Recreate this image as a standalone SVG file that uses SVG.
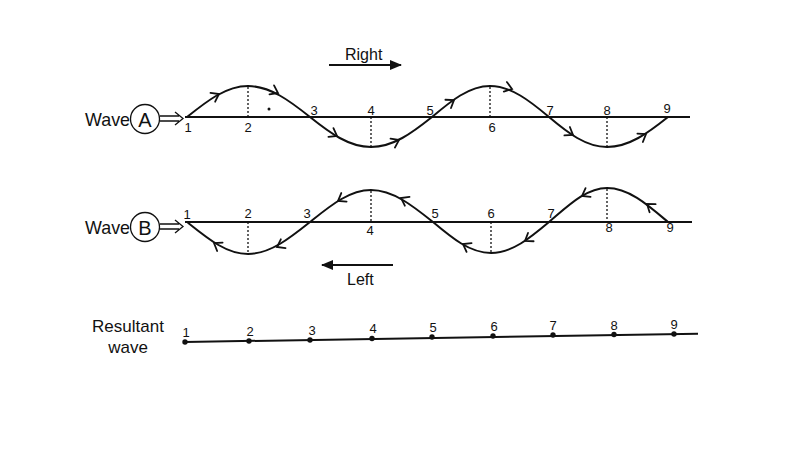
<svg xmlns="http://www.w3.org/2000/svg" xmlns:xlink="http://www.w3.org/1999/xlink" width="800" height="450" viewBox="0 0 800 450">
  <style>
    .t { font-family: "Liberation Sans", Arial, sans-serif; fill: #111; }
    .num { font-size: 13px; text-anchor: middle; }
    .lbl { font-size: 16px; }
    .axis { stroke: #111; stroke-width: 2; fill: none; }
    .wave { stroke: #111; stroke-width: 2; fill: none; }
    .dot { stroke: #111; stroke-width: 1.3; stroke-dasharray: 2 2; fill: none; }
    .chev { stroke: #111; stroke-width: 1.8; fill: none; stroke-linejoin: miter; stroke-linecap: round; }
    .dbl { stroke: #111; stroke-width: 1.3; fill: none; }
  </style>
  <defs>
    <path id="chev" d="M-7,-5 L0,0 L-7,5"/>
    <marker id="head" viewBox="0 0 12 10" refX="11" refY="5" markerWidth="12" markerHeight="10" markerUnits="userSpaceOnUse" orient="auto">
      <path d="M0,0 L12,5 L0,10 Z" fill="#111"/>
    </marker>
  </defs>
  <rect width="800" height="450" fill="#ffffff"/>

  <!-- Direction arrows -->
  <g id="right">
    <text class="t lbl" x="345" y="60">Right</text>
    <line x1="329" y1="65" x2="401" y2="65" stroke="#111" stroke-width="2" marker-end="url(#head)"/>
  </g>
  <g id="left">
    <line x1="393" y1="265" x2="322" y2="265" stroke="#111" stroke-width="2" marker-end="url(#head)"/>
    <text class="t lbl" x="347" y="285">Left</text>
  </g>

  <!-- Wave A -->
  <g id="waveA">
    <text class="t" x="85" y="126" font-size="19" textLength="45" lengthAdjust="spacingAndGlyphs">Wave</text>
    <circle cx="145" cy="119" r="14.5" fill="none" stroke="#111" stroke-width="1.3"/>
    <text class="t" x="145" y="126.5" font-size="20" text-anchor="middle">A</text>
    <path class="dbl" d="M160,116 H179 M160,121 H179 M175,112 L183,118.5 L175,125"/>
    <line class="axis" x1="185" y1="117" x2="690" y2="117"/>
    <path class="wave" d="M187,117 C207,101 226,86 248,86 C270,86 290,101 310,117 C330,133 349,147 371,147 C393,147 412,133 432,117 C451,101 469,86 490,86 C511,86 530,101 549,117 C568,133 586,147 607,147 C629,147 648,133 668,117"/>
    <path class="dot" d="M248,87 V117 M371,117 V146 M490,87 V117 M607,117 V146"/>
    <g class="chev">
      <use xlink:href="#chev" transform="translate(219,94) rotate(-28)"/>
      <use xlink:href="#chev" transform="translate(278,93) rotate(27)"/>
      <use xlink:href="#chev" transform="translate(337,136) rotate(30)"/>
      <use xlink:href="#chev" transform="translate(399,140) rotate(-26)"/>
      <use xlink:href="#chev" transform="translate(454,100) rotate(-34)"/>
      <use xlink:href="#chev" transform="translate(512,89) rotate(18)"/>
      <use xlink:href="#chev" transform="translate(573,135) rotate(33)"/>
      <use xlink:href="#chev" transform="translate(646,134) rotate(-33)"/>
    </g>
    <circle cx="269" cy="109" r="1.5" fill="#111"/>
    <g class="t num">
      <text x="188" y="132">1</text>
      <text x="248" y="132">2</text>
      <text x="314" y="115">3</text>
      <text x="371" y="115">4</text>
      <text x="430" y="115">5</text>
      <text x="492" y="132">6</text>
      <text x="550" y="115">7</text>
      <text x="607" y="115">8</text>
      <text x="667" y="113">9</text>
    </g>
  </g>

  <!-- Wave B -->
  <g id="waveB">
    <text class="t" x="85" y="234" font-size="19" textLength="45" lengthAdjust="spacingAndGlyphs">Wave</text>
    <circle cx="145" cy="227" r="14.5" fill="none" stroke="#111" stroke-width="1.3"/>
    <text class="t" x="145" y="234.5" font-size="20" text-anchor="middle">B</text>
    <path class="dbl" d="M160,224 H179 M160,229 H179 M175,220 L183,226.5 L175,233"/>
    <line class="axis" x1="185" y1="222" x2="692" y2="222"/>
    <path class="wave" d="M187,222 C207,238 226,254 248,254 C270,254 290,238 310,222 C330,206 349,190 371,190 C393,190 413,206 433,222 C452,238 470,253 491,253 C512,253 530,238 549,222 C568,206 586,188 607,188 C629,188 648,205 668,222"/>
    <path class="dot" d="M248,222 V253 M371,191 V222 M491,222 V252 M607,189 V222"/>
    <g class="chev">
      <use xlink:href="#chev" transform="translate(214,243) rotate(213)"/>
      <use xlink:href="#chev" transform="translate(277,247) rotate(152)"/>
      <use xlink:href="#chev" transform="translate(338,201) rotate(148)"/>
      <use xlink:href="#chev" transform="translate(401,198) rotate(208)"/>
      <use xlink:href="#chev" transform="translate(463,244) rotate(210)"/>
      <use xlink:href="#chev" transform="translate(525,241) rotate(146)"/>
      <use xlink:href="#chev" transform="translate(582,196) rotate(150)"/>
      <use xlink:href="#chev" transform="translate(647,204) rotate(217)"/>
    </g>
    <g class="t num">
      <text x="187" y="219">1</text>
      <text x="248" y="218">2</text>
      <text x="307" y="218">3</text>
      <text x="370" y="235">4</text>
      <text x="435" y="218">5</text>
      <text x="491" y="218">6</text>
      <text x="551" y="218">7</text>
      <text x="609" y="232">8</text>
      <text x="670" y="232">9</text>
    </g>
  </g>

  <!-- Resultant wave -->
  <g id="resultant">
    <text class="t" x="128" y="332" font-size="17" text-anchor="middle">Resultant</text>
    <text class="t" x="128" y="353" font-size="17" text-anchor="middle">wave</text>
    <line x1="185" y1="342" x2="698" y2="333.7" stroke="#111" stroke-width="2"/>
    <g fill="#111">
      <circle cx="185" cy="342" r="2.7"/>
      <circle cx="249" cy="341" r="2.7"/>
      <circle cx="310" cy="340" r="2.7"/>
      <circle cx="372" cy="338.5" r="2.7"/>
      <circle cx="432" cy="337" r="2.7"/>
      <circle cx="493" cy="336" r="2.7"/>
      <circle cx="553" cy="335" r="2.7"/>
      <circle cx="614" cy="334.5" r="2.7"/>
      <circle cx="674" cy="334" r="2.7"/>
    </g>
    <g class="t num">
      <text x="186" y="337">1</text>
      <text x="250" y="336">2</text>
      <text x="312" y="335">3</text>
      <text x="373" y="333">4</text>
      <text x="433" y="332">5</text>
      <text x="494" y="331">6</text>
      <text x="553" y="330">7</text>
      <text x="614" y="330">8</text>
      <text x="674" y="329">9</text>
    </g>
  </g>
</svg>
